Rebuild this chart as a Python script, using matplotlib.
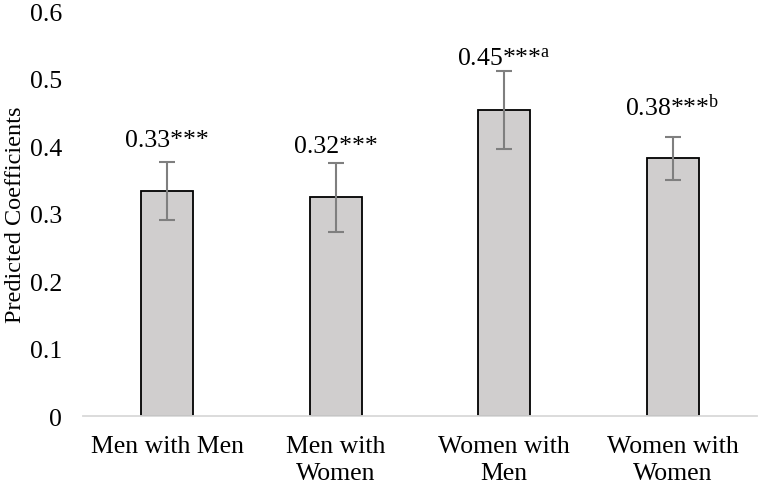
import matplotlib.pyplot as plt

plt.rcParams["font.family"] = ["Liberation Serif", "DejaVu Serif"]
plt.rcParams["mathtext.default"] = "regular"

groups = ["Men with Men", "Men with\nWomen", "Women with\nMen", "Women with\nWomen"]
coefs = [0.333, 0.324, 0.453, 0.382]
errs = [0.043, 0.051, 0.058, 0.032]
labels = ["0.33***", "0.32***", r"0.45***$\mathregular{^a}$", r"0.38***$\mathregular{^b}$"]

fs = 18.5

fig = plt.figure(figsize=(7.58, 4.85), dpi=100)
ax = fig.add_axes([0.1095, 0.1402, 0.889, 0.835])

x = range(len(groups))
ax.bar(x, coefs, width=0.31, color="#d0cece", edgecolor="black", linewidth=1.3,
       yerr=errs, error_kw=dict(ecolor="#7f7f7f", elinewidth=1.5, capsize=6, capthick=1.5))

for i, (v, lab) in enumerate(zip(coefs, labels)):
    ax.annotate(lab, (i, v), xytext=(0, 37), textcoords="offset points",
                ha="center", va="center", fontsize=fs)

ax.set_xlim(-0.5, 3.5)
ax.set_ylim(0, 0.6)
ax.set_yticks([0, 0.1, 0.2, 0.3, 0.4, 0.5, 0.6])
ax.set_yticklabels(["0", "0.1", "0.2", "0.3", "0.4", "0.5", "0.6"])
ax.set_xticks(list(x))
ax.set_xticklabels(groups, linespacing=1.25)
ax.tick_params(axis="y", length=0, pad=15, labelsize=fs)
ax.tick_params(axis="x", length=0, pad=14, labelsize=fs)
ax.set_ylabel("Predicted Coefficients", fontsize=17.5, labelpad=3)

for s in ["top", "right", "left"]:
    ax.spines[s].set_visible(False)
ax.spines["bottom"].set_color("#d9d9d9")
ax.spines["bottom"].set_linewidth(1.3)

fig.savefig("out.png", dpi=100)
